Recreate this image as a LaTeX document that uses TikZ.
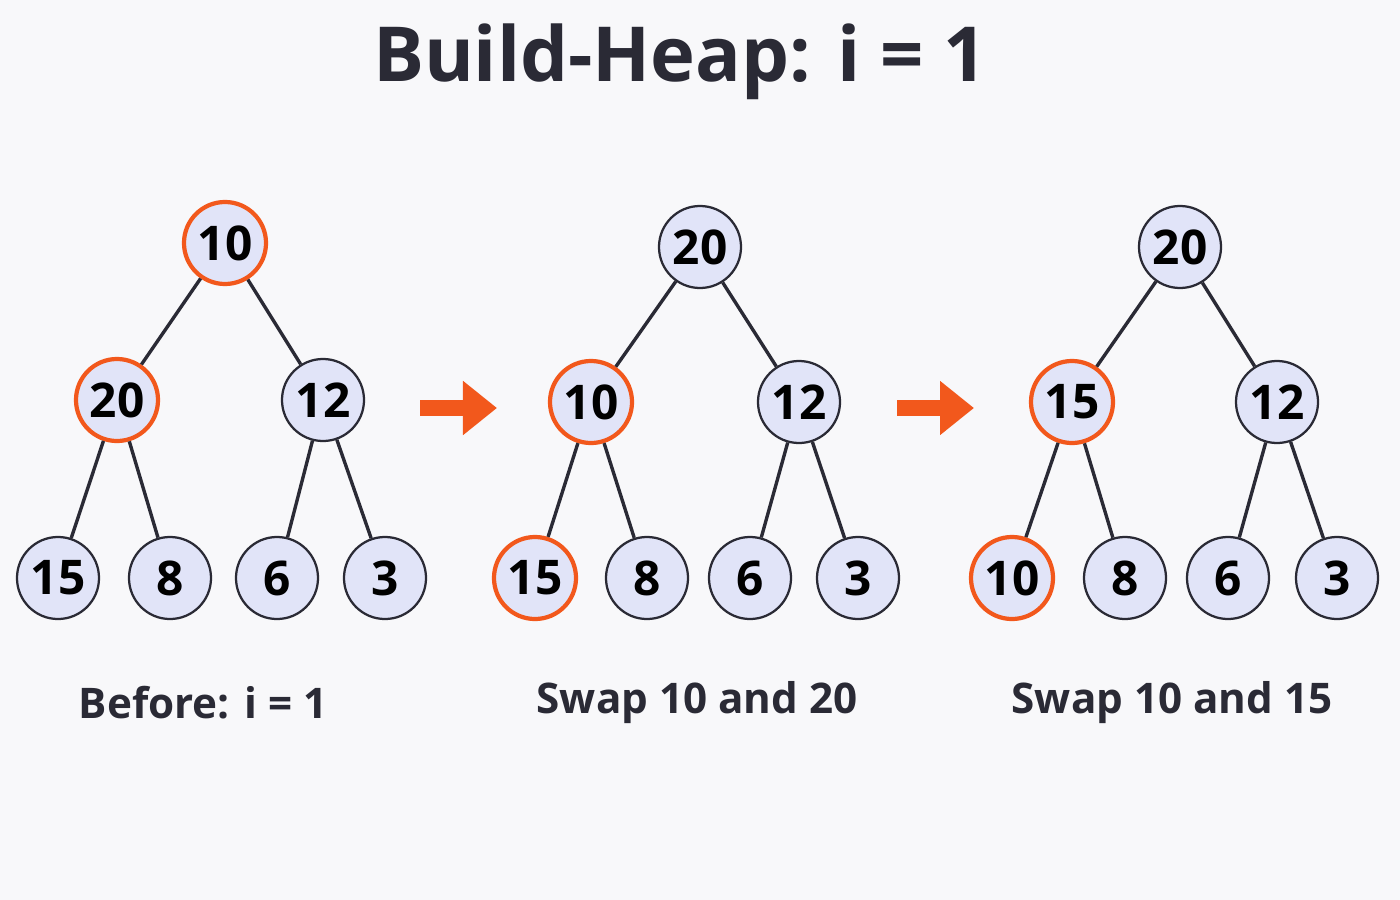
\documentclass[tikz,border=0pt]{standalone}
\usepackage{fontspec}
\setmainfont{Open Sans}
\usetikzlibrary{arrows.meta}
\definecolor{bgc}{HTML}{F8F8FA}
\definecolor{keyfill}{HTML}{E1E4F8}
\definecolor{keyline}{HTML}{2A2A35}
\definecolor{hot}{HTML}{F2581C}
\tikzset{
  x=0.025cm, y=-0.025cm,
  key/.style={circle, draw=keyline, line width=1.6pt, fill=keyfill, minimum size=2.05cm, inner sep=0pt,
    font=\fontsize{34}{36}\selectfont\bfseries},
  marked/.style={key, draw=hot, line width=3pt},
  link/.style={draw=keyline, line width=2.4pt},
  step arrow/.style={draw=hot, line width=0.42cm, -{Triangle[length=0.85cm, width=1.3cm]}},
  caption/.style={font=\fontsize{30}{32}\selectfont\bfseries, text=keyline},
}
\begin{document}
\begin{tikzpicture}
  \fill[bgc] (0,0) rectangle (1400,900);
  \node[font=\fontsize{54}{56}\selectfont\bfseries, text=keyline] (title) at (680,62) {Build-Heap: i = 1};

  % before
  \node[marked] (a0) at (225,243) {10};
  \node[marked] (a1) at (117,400) {20};
  \node[key] (a2) at (323,400) {12};
  \node[key] (a3) at (58,578) {15};
  \node[key] (a4) at (170,578) {8};
  \node[key] (a5) at (277,578) {6};
  \node[key] (a6) at (385,578) {3};

  % first swap
  \node[key] (b0) at (700,247) {20};
  \node[marked] (b1) at (591,402) {10};
  \node[key] (b2) at (799,402) {12};
  \node[marked] (b3) at (535,578) {15};
  \node[key] (b4) at (647,578) {8};
  \node[key] (b5) at (750,578) {6};
  \node[key] (b6) at (858,578) {3};

  % second swap
  \node[key] (c0) at (1180,247) {20};
  \node[marked] (c1) at (1072,402) {15};
  \node[key] (c2) at (1277,402) {12};
  \node[marked] (c3) at (1012,578) {10};
  \node[key] (c4) at (1125,578) {8};
  \node[key] (c5) at (1228,578) {6};
  \node[key] (c6) at (1337,578) {3};

  \foreach \t in {a,b,c} {
    \draw[link] (\t0) -- (\t1);
    \draw[link] (\t0) -- (\t2);
    \draw[link] (\t1) -- (\t3);
    \draw[link] (\t1) -- (\t4);
    \draw[link] (\t2) -- (\t5);
    \draw[link] (\t2) -- (\t6);
  }

  \coordinate (p1) at (420,408);
  \coordinate (p2) at (497,408);
  \coordinate (q1) at (897,408);
  \coordinate (q2) at (974,408);
  \draw[step arrow] (p1) -- (p2);
  \draw[step arrow] (q1) -- (q2);

  \node[caption] (capa) at (203,703) {Before: i = 1};
  \node[caption] (capb) at (697,703) {Swap 10 and 20};
  \node[caption] (capc) at (1172,703) {Swap 10 and 15};
\end{tikzpicture}
\end{document}
